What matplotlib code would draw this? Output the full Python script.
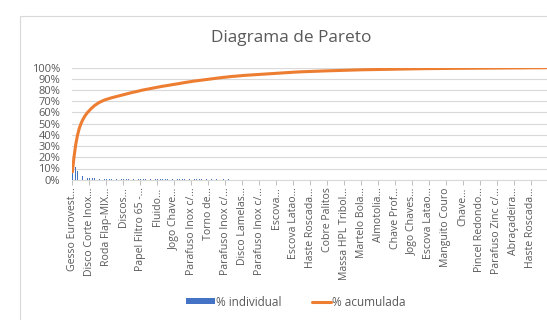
import numpy as np
import matplotlib
matplotlib.use("Agg")
import matplotlib.pyplot as plt
from matplotlib.ticker import FixedLocator, FuncFormatter
from matplotlib.patches import Rectangle
from matplotlib.lines import Line2D
from matplotlib.legend_handler import HandlerLine2D

# ---------------- data ----------------
rotulos = [
    "Gesso Eurovest...", "Disco Corte Inox...", "Roda Flap-MIX...", "Discos...",
    "Papel Filtro 65 -...", "Fluido...", "Jogo Chave...", "Parafuso Inox c/...",
    "Torno de...", "Parafuso Inox c/...", "Disco Lamelas...", "Parafuso Inox c/...",
    "Escova...", "Escova Latao...", "Haste Roscada...", "Cobre Palitos",
    "Massa HPL Tribol...", "Martelo Bola...", "Almotolia...", "Chave Prof...",
    "Jogo Chaves...", "Escova Latao...", "Manguito Couro", "Chave...",
    "Pincel Redondo...", "Parafuso Zinc c/...", "Abraçadeira...", "Haste Roscada...",
]
passo_rotulo = 10  # one visible label every 10 items

pct_acumulada = [
    7.0, 20.5, 31.5, 39.5, 45.5, 49.7, 53.1, 55.9, 58.2, 60.1,
    61.8, 63.4, 64.8, 66.1, 67.2, 68.2, 69.1, 69.8, 70.5, 71.2,
    71.7, 72.2, 72.7, 73.1, 73.5, 74.0, 74.4, 74.8, 75.2, 75.5,
    75.9, 76.3, 76.7, 77.0, 77.4, 77.8, 78.1, 78.5, 78.8, 79.2,
    79.5, 79.9, 80.2, 80.5, 80.8, 81.1, 81.4, 81.7, 82.0, 82.2,
    82.5, 82.8, 83.1, 83.4, 83.6, 83.9, 84.1, 84.4, 84.6, 84.9,
    85.1, 85.4, 85.6, 85.9, 86.2, 86.4, 86.7, 86.9, 87.2, 87.4,
    87.7, 87.9, 88.1, 88.3, 88.5, 88.8, 89.0, 89.2, 89.4, 89.6,
    89.8, 90.0, 90.2, 90.3, 90.5, 90.7, 90.8, 91.0, 91.2, 91.4,
    91.5, 91.7, 91.9, 92.0, 92.2, 92.3, 92.4, 92.6, 92.7, 92.8,
    93.0, 93.1, 93.2, 93.3, 93.4, 93.5, 93.6, 93.7, 93.8, 93.9,
    94.05, 94.15, 94.25, 94.35, 94.45, 94.55, 94.65, 94.75, 94.85, 94.95,
    95.05, 95.15, 95.25, 95.35, 95.45, 95.5, 95.6, 95.7, 95.8, 95.85,
    95.95, 96.05, 96.1, 96.2, 96.3, 96.35, 96.4, 96.45, 96.5, 96.55,
    96.6, 96.65, 96.75, 96.8, 96.85, 96.9, 97.0, 97.05, 97.1, 97.15,
    97.2, 97.25, 97.3, 97.35, 97.4, 97.45, 97.5, 97.55, 97.6, 97.65,
    97.7, 97.75, 97.8, 97.85, 97.87, 97.9, 97.95, 98.0, 98.05, 98.1,
    98.12, 98.15, 98.2, 98.22, 98.25, 98.3, 98.32, 98.35, 98.4, 98.42,
    98.45, 98.5, 98.52, 98.55, 98.6, 98.61, 98.62, 98.65, 98.68, 98.7,
    98.72, 98.75, 98.78, 98.8, 98.83, 98.85, 98.88, 98.9, 98.93, 98.95,
    98.98, 99.0, 99.03, 99.05, 99.08, 99.1, 99.12, 99.14, 99.16, 99.17,
    99.19, 99.2, 99.22, 99.24, 99.25, 99.27, 99.29, 99.3, 99.32, 99.33,
    99.35, 99.36, 99.37, 99.38, 99.4, 99.41, 99.42, 99.43, 99.45, 99.46,
    99.47, 99.48, 99.5, 99.51, 99.52, 99.53, 99.55, 99.56, 99.57, 99.59,
    99.6, 99.61, 99.62, 99.63, 99.635, 99.64, 99.65, 99.66, 99.67, 99.68,
    99.685, 99.69, 99.7, 99.71, 99.72, 99.73, 99.735, 99.74, 99.75, 99.76,
    99.77, 99.78, 99.79, 99.8, 99.81, 99.82, 99.83, 99.85, 99.86, 99.87,
    99.88, 99.89, 99.9, 99.92, 99.93, 99.94, 99.95, 99.97, 99.98, 100.0,
]
pct_individual = np.diff(np.concatenate([[0.0], pct_acumulada]))

# ---------------- style ----------------
plt.rcParams["font.family"] = ["Open Sans", "DejaVu Sans"]
GRAY_TXT = "#595959"
GRID = "#D9D9D9"
BLUE = "#4472C4"
ORANGE = "#ED7D31"

W, H = 547, 320
fig = plt.figure(figsize=(W / 100, H / 100), dpi=100)
fig.patch.set_facecolor("white")

left, right, top, bottom = 71.5, 547.0, 67.7, 179.7
ax = fig.add_axes([left / W, 1 - bottom / H, (right - left) / W, (bottom - top) / H])

n = len(pct_acumulada)
x = np.arange(n)

bars = ax.bar(x, pct_individual, width=0.3, color=BLUE, label="% individual",
              zorder=2, linewidth=0)
line, = ax.plot(x, pct_acumulada, color=ORANGE, lw=2.2, solid_capstyle="round",
                label="% acumulada", zorder=3)

ax.set_xlim(-0.5, n - 0.5)
ax.set_ylim(0, 100)

ax.yaxis.set_major_locator(FixedLocator(np.arange(0, 101, 10)))
ax.yaxis.set_major_formatter(FuncFormatter(lambda v, p: f"{v:.0f}%"))
ax.tick_params(axis="y", length=0, labelsize=8, labelcolor=GRAY_TXT, pad=8)
ax.yaxis.grid(True, color=GRID, lw=0.8, zorder=0)
ax.set_axisbelow(True)

pos_rot = np.arange(len(rotulos)) * passo_rotulo
ax.set_xticks(pos_rot)
ax.set_xticklabels(rotulos, rotation=90, fontsize=7.6, color=GRAY_TXT)
ax.tick_params(axis="x", length=3.5, width=0.7, color="#BFBFBF", pad=2)

for s in ["top", "right", "left"]:
    ax.spines[s].set_visible(False)
ax.spines["bottom"].set_color(GRID)
ax.spines["bottom"].set_linewidth(0.8)

fig.text(291 / W, 1 - 38 / H, "Diagrama de Pareto", ha="center", va="center",
         fontsize=12.4, color=GRAY_TXT)


class ShortLineHandler(HandlerLine2D):
    """Legend line key shorter than the patch key (Excel-like)."""
    def create_artists(self, legend, orig_handle, xdescent, ydescent, width,
                       height, fontsize, trans):
        w2 = width * 0.66
        return super().create_artists(legend, orig_handle, xdescent - (width - w2),
                                      ydescent, w2, height, fontsize, trans)


leg = ax.legend(handles=[bars, line], labels=["% individual", "% acumulada"],
                loc="center", bbox_to_anchor=(296 / W, 1 - 302 / H),
                bbox_transform=fig.transFigure, ncol=2, frameon=False,
                fontsize=8.5, handlelength=2.4, handleheight=0.35,
                handletextpad=0.1, columnspacing=1.8,
                handler_map={Line2D: ShortLineHandler()})
for t in leg.get_texts():
    t.set_color(GRAY_TXT)

# chart-area border (left and top edges visible in the crop)
fig.add_artist(Rectangle((20 / W, -0.1), 1.0, 1.1 - 16 / H, transform=fig.transFigure,
                         fill=False, edgecolor=GRID, lw=0.8))

fig.savefig("out.png", dpi=100)
